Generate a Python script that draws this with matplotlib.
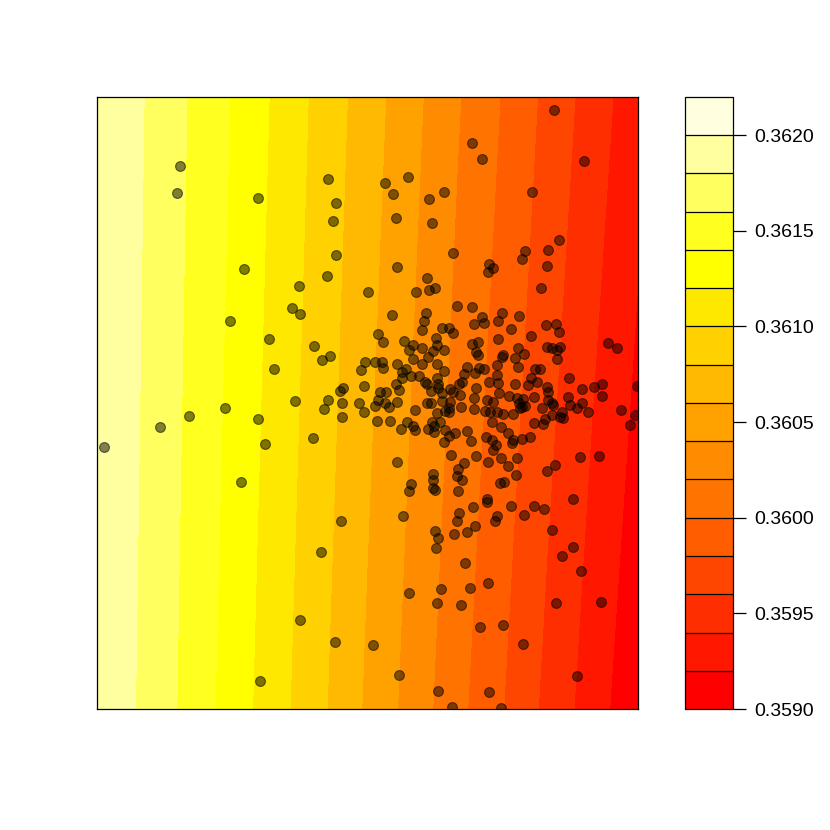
import colorsys
import matplotlib
matplotlib.use("Agg")
import matplotlib.pyplot as plt
import numpy as np

grid_x = [0, 45, 90, 135, 180, 225, 270, 315, 360, 405, 450, 495, 541]
grid_y = [0, 612]
z_bottom = [0.36198, 0.36177, 0.36155, 0.36131, 0.36107, 0.36083, 0.36057,
            0.36032, 0.36006, 0.35981, 0.35955, 0.35930, 0.35904]
z_top = [0.36199, 0.36181, 0.36160, 0.36139, 0.36116, 0.36093, 0.36070,
         0.36046, 0.36022, 0.35999, 0.35975, 0.35951, 0.35927]

levels = np.linspace(0.3590, 0.3622, 17)
cbar_ticks = [0.3590, 0.3595, 0.3600, 0.3605, 0.3610, 0.3615, 0.3620]

# observation sites
pts_x = [83, 80, 161, 231, 239, 236, 239, 230, 147, 202, 195, 203, 133, 172,
         217, 225, 233, 177, 264, 268, 246, 243, 267, 198, 231, 245, 262, 128,
         271,
         7, 63, 92, 161, 227, 245, 267, 216, 168, 144, 244, 224, 203, 238, 163,
         457, 375, 385, 487, 311, 288, 296, 332, 347, 435, 299, 335, 462, 451,
         428, 425, 356, 392, 396, 391, 450, 300, 330, 338, 332, 319, 444,
         295, 329, 327, 325, 360, 375, 385, 387, 377, 401, 345, 352, 356, 281,
         286, 307, 316, 312, 325, 339, 340, 336, 347, 331, 316, 325, 340, 347,
         375, 381, 379, 381, 401, 278, 285, 286, 300, 305, 309, 305, 314, 322,
         328, 330, 334, 341, 341, 340, 299, 302, 283, 289, 370, 367, 378, 382,
         387, 362, 365, 379, 392, 400, 353, 356,
         405, 422, 414, 449, 459, 462, 434, 450, 455, 460, 463, 460, 421, 427,
         418, 421, 406, 405, 400, 511, 520, 438, 443, 434, 440, 431, 401, 418,
         472, 450, 451, 485, 497, 505, 540,
         281, 288, 278, 292, 300, 280, 293, 318, 330, 334, 345, 363, 345, 353,
         352, 348, 352, 364, 340, 377, 377, 390, 396, 388, 393, 400, 395, 310,
         316, 318, 304, 335, 337, 331, 337, 343, 348, 352, 358, 347, 370, 374,
         389, 395, 396, 399, 379, 354, 367, 361, 360, 365, 300, 336, 336, 314,
         312, 336, 338, 361, 391, 390,
         402, 412, 420, 426, 437, 451, 455, 456, 422, 425, 428, 423, 471, 505,
         445, 473, 480, 485, 491, 465, 466, 463, 455, 448, 446, 437, 416, 406,
         524, 538, 533, 404, 411, 416, 415, 425, 433, 404, 420, 411, 419, 403,
         407, 483, 502, 458, 450, 476,
         306, 362, 360, 376, 390, 400, 398, 414, 437, 447, 427, 378, 338, 341,
         339, 357, 370, 455, 476, 465, 484, 368, 312, 344, 373, 391, 340, 364,
         459, 504, 383, 406, 426, 276, 302, 480, 341, 392, 355, 404]
pts_y = [543, 516, 511, 530, 506, 488, 454, 433, 440, 423, 401, 395, 388, 370,
         363, 349, 353, 340, 339, 347, 321, 318, 323, 308, 309, 306, 306, 301,
         417,
         262, 282, 293, 290, 300, 292, 297, 271, 265, 227, 188, 157, 89, 67, 28,
         599, 566, 550, 548, 532, 526, 515, 510, 517, 517, 491, 486, 469, 459,
         458, 450, 456, 445, 441, 437, 443, 442, 431, 421, 419, 417, 421,
         394, 396, 388, 379, 403, 402, 392, 386, 385, 388, 381, 381, 376, 375,
         367, 368, 364, 359, 361, 371, 364, 358, 359, 352, 350, 345, 345, 338,
         365, 367, 357, 354, 370, 347, 347, 341, 345, 337, 340, 331, 333, 333,
         327, 325, 318, 325, 321, 331, 325, 319, 317, 317, 342, 335, 336, 341,
         340, 325, 327, 321, 327, 334, 320, 317,
         396, 393, 380, 384, 385, 377, 373, 362, 361, 359, 362, 350, 361, 355,
         351, 342, 354, 352, 344, 366, 361, 340, 340, 331, 327, 324, 326, 325,
         331, 322, 317, 320, 322, 325, 323,
         309, 306, 303, 302, 307, 288, 288, 299, 306, 306, 316, 314, 308, 307,
         301, 298, 297, 302, 296, 311, 300, 309, 307, 298, 297, 297, 287, 287,
         283, 279, 280, 287, 283, 280, 277, 287, 279, 273, 276, 267, 278, 268,
         272, 269, 259, 264, 253, 254, 246, 240, 233, 229, 247, 235, 229, 225,
         218, 221, 219, 218, 247, 210,
         316, 313, 311, 310, 312, 309, 306, 304, 306, 302, 303, 301, 312, 313,
         301, 304, 301, 306, 297, 297, 291, 292, 294, 290, 285, 286, 295, 295,
         299, 294, 284, 282, 276, 269, 266, 270, 272, 251, 251, 243, 234, 226,
         227, 252, 253, 244, 238, 210,
         193, 196, 188, 202, 207, 193, 188, 203, 203, 200, 194, 183, 178, 171,
         161, 175, 177, 179, 162, 153, 138, 146, 116, 120, 121, 126, 106, 104,
         106, 107, 82, 84, 65, 64, 34, 33, 18, 17, 2, 1]


def heat_colors(n):
    # same ramp as R's heat.colors()
    j = n // 4
    i = n - j
    cols = [colorsys.hsv_to_rgb(k / (i - 1) / 6, 1, 1) for k in range(i)]
    sat = np.linspace(1 - 1 / (2 * j), 1 / (2 * j), j)
    cols += [colorsys.hsv_to_rgb(1 / 6, s, 1) for s in sat]
    return cols


plt.rcParams["font.family"] = ["Liberation Sans", "DejaVu Sans"]

fig = plt.figure(figsize=(8.3, 8.3), dpi=100)
ax = fig.add_axes([97 / 830, 121 / 830, 541 / 830, 612 / 830])

Z = np.array([z_bottom, z_top])
cs = ax.contourf(grid_x, grid_y, Z, levels=levels,
                 colors=heat_colors(len(levels) - 1))

ax.scatter(pts_x, pts_y, s=50, facecolor=(0, 0, 0, 0.5),
           edgecolor=(0, 0, 0, 0.55), linewidth=0.8, zorder=3)

ax.set_xlim(0, 541)
ax.set_ylim(0, 612)
ax.set_xticks([])
ax.set_yticks([])
for sp in ax.spines.values():
    sp.set_linewidth(0.9)
    sp.set_color("black")

cax = fig.add_axes([685 / 830, 121 / 830, 48 / 830, 612 / 830])
cb = fig.colorbar(cs, cax=cax, drawedges=True)
cb.set_ticks(cbar_ticks)
cb.set_ticklabels([f"{t:.4f}" for t in cbar_ticks])
cb.dividers.set_color("black")
cb.dividers.set_linewidth(0.9)
cb.outline.set_linewidth(0.9)
cax.tick_params(axis="y", length=9, width=0.9, pad=6, labelsize=14)

plt.savefig("out.png", dpi=100)
